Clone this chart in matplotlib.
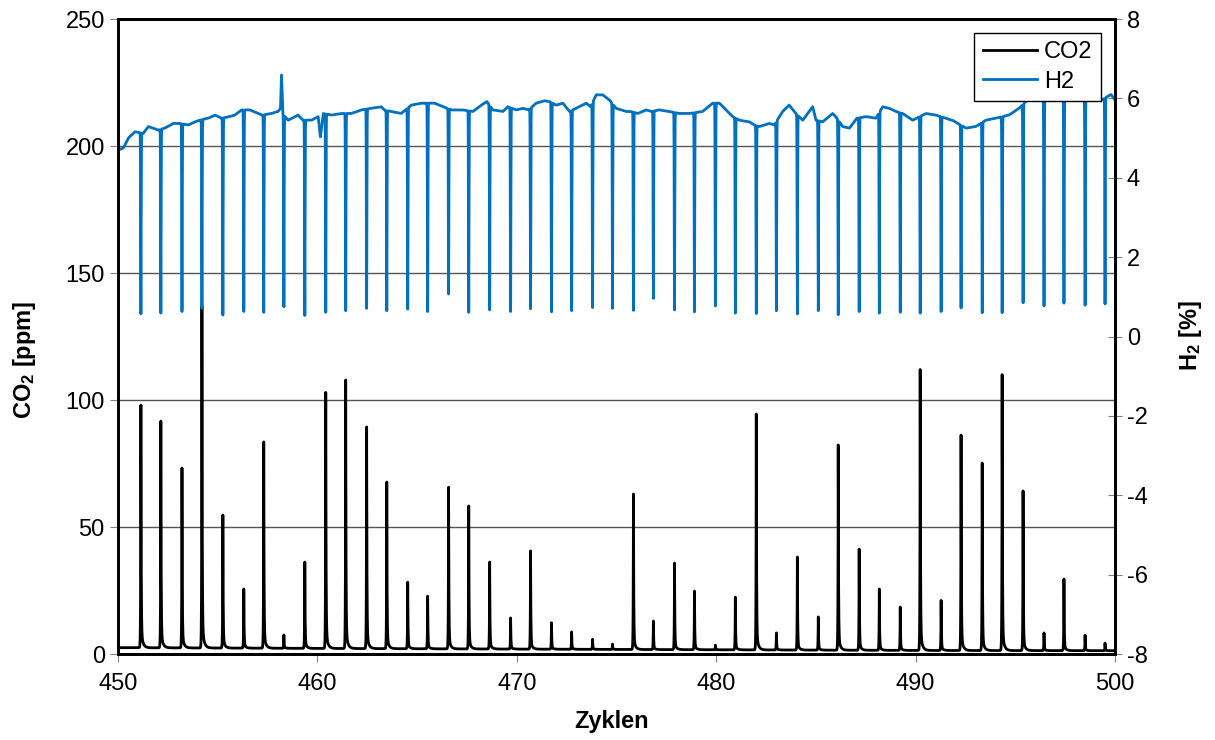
import matplotlib
matplotlib.use('Agg')
import matplotlib.pyplot as plt
import numpy as np

plt.rcParams['font.family'] = ['Liberation Sans', 'DejaVu Sans']
plt.rcParams['mathtext.fontset'] = 'custom'
plt.rcParams['mathtext.rm'] = 'Liberation Sans'
plt.rcParams['mathtext.bf'] = 'Liberation Sans:bold'
plt.rcParams['axes.unicode_minus'] = False

# cycle times (x position of each CO2 peak / H2 dip)
peak_x = [451.15, 452.15, 453.21, 454.21, 455.26, 456.31, 457.31, 458.32, 459.37, 460.42,
          461.42, 462.47, 463.48, 464.53, 465.53, 466.58, 467.59, 468.64, 469.69, 470.69,
          471.74, 472.75, 473.80, 474.80, 475.85, 476.85, 477.91, 478.91, 479.96, 480.96,
          482.01, 483.02, 484.07, 485.12, 486.12, 487.17, 488.18, 489.23, 490.23, 491.28,
          492.28, 493.34, 494.34, 495.39, 496.44, 497.44, 498.50, 499.50]

# CO2 peak heights [ppm]
co2_peak = [98, 91.7, 73.2, 137, 54.7, 25.6, 83.5, 7.5, 36.2, 103,
            107.9, 89.4, 67.7, 28.3, 22.8, 65.7, 58.3, 36.2, 14.2, 40.6,
            12.3, 8.7, 5.8, 3.9, 63, 13, 35.8, 24.8, 3.5, 22.4,
            94.5, 8.3, 38.2, 14.6, 82.3, 41.3, 25.6, 18.5, 112, 21.1,
            86.2, 75.2, 110, 64.2, 8.3, 29.5, 7.4, 4.3]

# CO2 baseline level between peaks [ppm]
co2_base_x = [450, 460, 475, 490, 500]
co2_base_y = [2.5, 2.2, 1.8, 1.4, 1.3]

# H2 minimum at each dip [%]
h2_dip = [0.57, 0.59, 0.63, 0.71, 0.54, 0.63, 0.61, 0.75, 0.53, 0.61,
          0.65, 0.71, 0.65, 0.69, 0.63, 1.07, 0.61, 0.67, 0.63, 0.70,
          0.62, 0.65, 0.73, 0.71, 0.66, 0.96, 0.67, 0.62, 0.77, 0.59,
          0.58, 0.65, 0.57, 0.65, 0.55, 0.63, 0.59, 0.61, 0.59, 0.63,
          0.72, 0.60, 0.60, 0.85, 0.77, 0.84, 0.79, 0.82]

# H2 level between dips [%]
h2_base_x = [450.02, 450.27, 450.52, 450.85, 451.27, 451.52, 451.77, 452.02, 452.35, 452.77,
             453.10, 453.52, 453.86, 454.15, 454.53, 454.86, 455.19, 455.61, 455.86, 456.20,
             456.61, 457.03, 457.22, 457.70, 458.03, 458.15, 458.20, 458.28, 458.53, 459.03,
             459.28, 459.70, 460.04, 460.15, 460.30, 460.70, 461.20, 461.70, 462.20, 462.70,
             463.20, 463.38, 463.71, 464.20, 464.71, 465.21, 465.88, 466.30, 466.72, 467.30,
             467.80, 468.22, 468.50, 468.80, 469.30, 469.55, 469.97, 470.30, 470.60, 470.97,
             471.39, 471.64, 471.97, 472.31, 472.64, 472.98, 473.48, 473.70, 473.98, 474.31,
             474.65, 474.98, 475.48, 475.73, 476.07, 476.48, 476.75, 477.15, 477.65, 478.15,
             478.65, 479.32, 479.82, 480.16, 480.49, 480.83, 481.16, 481.66, 481.91, 482.16,
             482.66, 482.91, 483.33, 483.66, 484.00, 484.34, 484.84, 485.00, 485.34, 485.84,
             486.00, 486.34, 486.68, 487.05, 487.51, 488.01, 488.35, 488.68, 489.01, 489.35,
             489.85, 490.52, 491.02, 491.52, 491.85, 492.52, 493.02, 493.52, 494.02, 494.69,
             495.19, 495.60, 496.00, 496.90, 497.90, 498.90, 499.30, 499.80, 500.00]
h2_base_y = [4.70, 4.75, 5.00, 5.16, 5.12, 5.29, 5.25, 5.20, 5.25, 5.37,
             5.37, 5.33, 5.41, 5.46, 5.50, 5.58, 5.50, 5.54, 5.58, 5.71,
             5.71, 5.62, 5.58, 5.62, 5.67, 5.75, 6.59, 5.60, 5.45, 5.58,
             5.45, 5.45, 5.54, 5.03, 5.62, 5.58, 5.62, 5.62, 5.71, 5.75,
             5.79, 5.70, 5.67, 5.62, 5.83, 5.88, 5.88, 5.79, 5.71, 5.71,
             5.67, 5.83, 5.92, 5.71, 5.67, 5.79, 5.71, 5.75, 5.71, 5.88,
             5.94, 5.92, 5.83, 5.88, 5.67, 5.75, 5.88, 5.79, 6.09, 6.09,
             5.96, 5.75, 5.67, 5.67, 5.62, 5.71, 5.67, 5.71, 5.67, 5.62,
             5.62, 5.67, 5.88, 5.88, 5.71, 5.54, 5.45, 5.41, 5.33, 5.29,
             5.37, 5.33, 5.67, 5.83, 5.62, 5.45, 5.79, 5.45, 5.41, 5.62,
             5.54, 5.29, 5.25, 5.50, 5.54, 5.50, 5.79, 5.75, 5.67, 5.62,
             5.45, 5.62, 5.58, 5.50, 5.45, 5.25, 5.29, 5.45, 5.50, 5.58,
             5.75, 5.96, 5.96, 6.00, 5.98, 6.00, 5.95, 6.10, 5.96]

# build the traces on a fine time grid
t = np.arange(450, 500.0005, 0.002)
base = np.interp(t, co2_base_x, co2_base_y)
co2 = base.copy()
for px, h in zip(peak_x, co2_peak):
    d = t - px
    rise = np.where(d < 0, np.exp(d / 0.012), 0)
    fall = np.where(d >= 0, 0.93 * np.exp(-d / 0.015) + 0.07 * np.exp(-d / 0.09), 0)
    amp = h - np.interp(px, co2_base_x, co2_base_y)
    co2 = co2 + amp * (rise + fall)

h2 = np.interp(t, h2_base_x, h2_base_y)
for px, m in zip(peak_x, h2_dip):
    g = np.exp(-((t - px) / 0.018) ** 2)
    h2 = h2 - (h2 - m) * g

fig = plt.figure(figsize=(12.15, 7.40), dpi=100)
ax = fig.add_axes([0.0971, 0.1162, 0.8206, 0.8581])
ax2 = ax.twinx()

ax.set_zorder(1)
ax.patch.set_visible(False)
ax2.set_zorder(2)
ax2.patch.set_visible(False)

for y in [50, 100, 150, 200]:
    ax.axhline(y, color='#555555', lw=1.0, zorder=0)

l1, = ax.plot(t, co2, color='black', lw=2.0, label='CO2')
l2, = ax2.plot(t, h2, color='#0070C0', lw=2.0, label='H2')

ax.set_xlim(450, 500)
ax.set_ylim(0, 250)
ax2.set_ylim(-8, 8)
ax.set_xticks([450, 460, 470, 480, 490, 500])
ax.set_yticks([0, 50, 100, 150, 200, 250])
ax2.set_yticks(np.arange(-8, 9, 2))

ax.tick_params(axis='both', direction='out', length=6, color='#808080', labelsize=17)
ax.tick_params(axis='x', pad=8)
ax2.tick_params(axis='y', direction='inout', length=10, color='#808080', labelsize=17)

for a in (ax, ax2):
    for s in a.spines.values():
        s.set_linewidth(2.0)
        s.set_color('black')

ax.set_xlabel('Zyklen', fontsize=17, fontweight='bold')
ax.set_ylabel(r'$\mathbf{CO_2}$ [ppm]', fontsize=17, fontweight='bold')
ax2.set_ylabel(r'$\mathbf{H_2}$ [%]', fontsize=17, fontweight='bold')
ax.xaxis.set_label_coords(0.4955, -0.088)
ax.yaxis.set_label_coords(-0.080, 0.463)
ax2.yaxis.set_label_coords(1.062, 0.502)

leg = ax2.legend([l1, l2], ['CO2', 'H2'], loc='upper right', fontsize=17,
                 frameon=True, fancybox=False, edgecolor='black', framealpha=1,
                 borderaxespad=0.6, handlelength=2.3, handletextpad=0.3,
                 borderpad=0.35, labelspacing=0.3)
leg.get_frame().set_linewidth(1.0)

fig.savefig('out.png', dpi=100)
plt.close(fig)
